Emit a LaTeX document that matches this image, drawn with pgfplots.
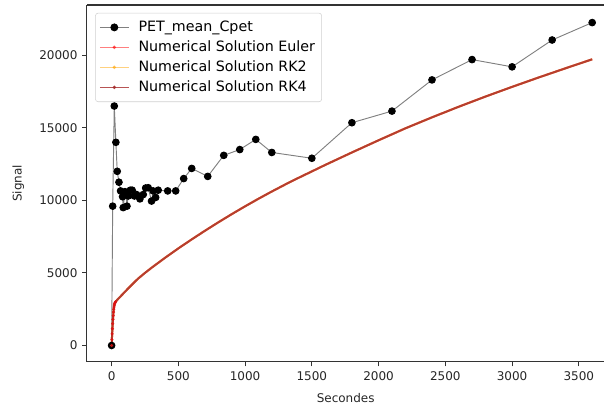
\documentclass[border=0pt]{standalone}
\usepackage{pgfplots}
\pgfplotsset{compat=1.18}
\usepackage{fontspec}
\setmainfont{DejaVu Sans}
\definecolor{eulc}{RGB}{255,0,0}
\definecolor{rk2c}{RGB}{255,165,0}
\definecolor{rk4c}{RGB}{165,42,42}
\begin{document}
\begin{tikzpicture}[x=1pt,y=1pt]
\begin{axis}[
  scale only axis,
  width=388.5pt, height=267.75pt,
  xmin=-185, xmax=3692,
  ymin=-1117, ymax=23462,
  axis x line*=box, axis y line*=left,
  axis line style={-, line width=0.8pt, black!80},
  xtick={0,500,...,3500},
  ytick={0,5000,10000,15000,20000},
  xtick pos=bottom, ytick pos=left,
  tick align=outside,
  major tick length=3.6pt,
  tick style={black!80, line width=0.7pt},
  /pgf/number format/assume math mode=true,
  /pgf/number format/.cd, 1000 sep={}, /pgfplots/.cd,
  scaled ticks=false,
  ticklabel style={font=\fontsize{9}{11}\selectfont, text=black!85},
  label style={font=\fontsize{9}{11}\selectfont, text=black!85},
  xlabel={Secondes}, ylabel={Signal},
  xlabel style={yshift=-3pt},
  ylabel style={yshift=4.5pt},
  legend cell align=left,
  legend style={at={(0.016,0.978)}, anchor=north west, draw=black!18, rounded corners=2pt,
    fill=white, fill opacity=0.8, text opacity=1, font=\fontsize{10.7}{12.5}\selectfont,
    row sep=1.4pt, inner xsep=3pt, inner ysep=4pt},
  legend image code/.code={%
    \draw[mark repeat=2, mark phase=2, #1] plot coordinates {(0cm,0cm) (0.38cm,0cm) (0.76cm,0cm)};
    \path (0.76cm+5pt,0pt);},
]
\addplot[black!50, line width=0.7pt, mark=*, mark size=2.5pt, mark options={fill=black, draw=black},
  legend image post style={mark size=2.6pt, mark options={fill=black, draw=black, fill opacity=1, draw opacity=1}}] coordinates {
(0,0) (8,9600) (20,16500) (32,14000) (42,12000) (55,11250) (67,10650) (82,10250) (87,9500)
(100,10600) (107,10500) (115,9600) (124,10300) (140,10700) (154,10700) (170,10300)
(187,10400) (212,10100) (237,10400) (255,10850) (274,10870) (299,9950) (311,10650) (330,10200) (349,10700)
(420,10650) (480,10650) (540,11500) (600,12200) (720,11650) (840,13100) (960,13500)
(1080,14200) (1200,13300) (1500,12900) (1800,15350) (2100,16150) (2400,18300)
(2700,19700) (3000,19200) (3300,21050) (3600,22250)
};
\addlegendentry{PET\_mean\_Cpet}
\pgfplotstableread{
t v
0 0
2 400
4 800
6 1150
8 1500
10 1800
12 2050
14 2300
16 2500
18 2650
20 2780
23 2880
26 2950
30 3020
40 3120
50 3220
75 3460
100 3700
125 3940
150 4170
175 4400
200 4620
250 5000
300 5360
400 6040
500 6690
600 7310
700 7910
800 8490
900 9050
1000 9590
1100 10110
1200 10610
1300 11090
1400 11550
1600 12440
1800 13300
2000 14140
2200 14960
2400 15720
2600 16450
2800 17150
3000 17820
3200 18470
3400 19100
3600 19720
}\numsol
\addplot[eulc, opacity=0.5, line width=1.5pt, legend image post style={mark=*, mark size=1pt, line width=0.6pt}] table[x=t,y=v] {\numsol};
\addlegendentry{Numerical Solution Euler}
\addplot[rk2c, opacity=0.5, line width=1.5pt, legend image post style={mark=*, mark size=1pt, line width=0.6pt}] table[x=t,y=v] {\numsol};
\addlegendentry{Numerical Solution RK2}
\addplot[rk4c, opacity=0.8, line width=1.5pt, legend image post style={mark=*, mark size=1pt, line width=0.6pt}] table[x=t,y=v] {\numsol};
\addlegendentry{Numerical Solution RK4}
\addplot[forget plot, only marks, mark=*, mark size=1pt, color=eulc!60!rk4c, opacity=0.8, restrict x to domain=0:30] table[x=t,y=v] {\numsol};
\end{axis}
\path ([shift={(-65.25pt,-33pt)}]current axis.south west) rectangle ([shift={(0pt,3.75pt)}]current axis.north east);
\end{tikzpicture}
\end{document}
